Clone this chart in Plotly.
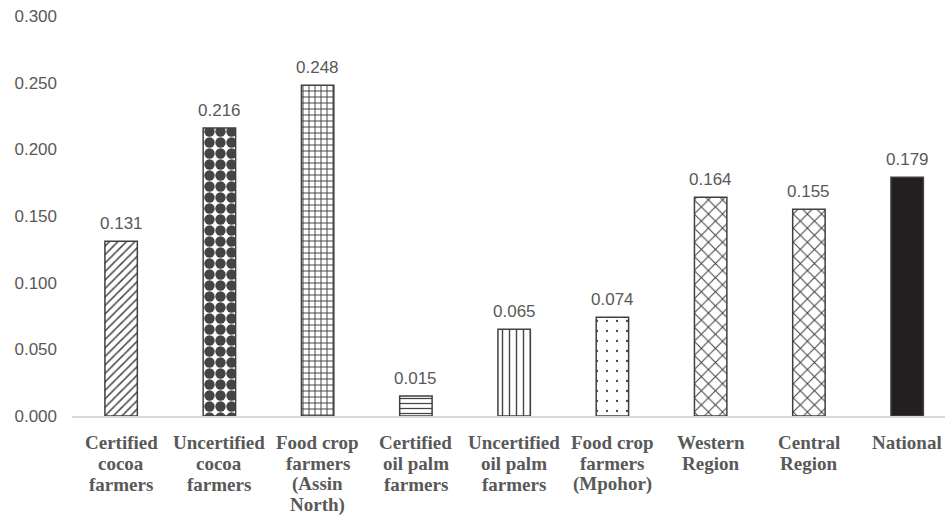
import plotly.graph_objects as go

categories = [
    "Certified cocoa farmers",
    "Uncertified cocoa farmers",
    "Food crop farmers (Assin North)",
    "Certified oil palm farmers",
    "Uncertified oil palm farmers",
    "Food crop farmers (Mpohor)",
    "Western Region",
    "Central Region",
    "National",
]
label_lines = [
    ["Certified", "cocoa", "farmers"],
    ["Uncertified", "cocoa", "farmers"],
    ["Food crop", "farmers", "(Assin", "North)"],
    ["Certified", "oil palm", "farmers"],
    ["Uncertified", "oil palm", "farmers"],
    ["Food crop", "farmers", "(Mpohor)"],
    ["Western", "Region"],
    ["Central", "Region"],
    ["National"],
]
values = [0.131, 0.216, 0.248, 0.015, 0.065, 0.074, 0.164, 0.155, 0.179]
y_ticks = [0.0, 0.05, 0.10, 0.15, 0.20, 0.25, 0.30]

shapes = ["/", ".", "+", "-", "|", ".", "x", "x", ""]
sizes = [6, 11, 6, 5, 7, 10, 10, 10, 8]
solid = [0.25, 0.7, 0.3, 0.25, 0.2, 0.04, 0.2, 0.2, 0.3]
fill_bg = ["white"] * 8 + ["#231f20"]

fig = go.Figure()
fig.add_trace(go.Bar(
    x=categories,
    y=values,
    width=0.33,
    marker=dict(
        color=fill_bg,
        line=dict(color="#404040", width=1.5),
        pattern=dict(shape=shapes, size=sizes, solidity=solid,
                     fgcolor="#000000", fgopacity=1, bgcolor=fill_bg,
                     fillmode="overlay"),
    ),
    hoverinfo="skip",
))

for c, v in zip(categories, values):
    fig.add_annotation(x=c, y=v, text=f"{v:.3f}", showarrow=False,
                       yanchor="bottom", yshift=6,
                       font=dict(family="Liberation Sans", size=17, color="#595959"))

for c, lines in zip(categories, label_lines):
    for i, line in enumerate(lines):
        fig.add_annotation(x=c, y=0, text=line, showarrow=False,
                           yanchor="middle", yshift=-(26 + 21 * i),
                           font=dict(family="Liberation Serif", size=19,
                                     color="#595959", weight="bold"))

fig.update_layout(
    width=945, height=520,
    margin=dict(l=72, r=0, t=16, b=104),
    plot_bgcolor="white", paper_bgcolor="white",
    showlegend=False,
    bargap=0.67,
    xaxis=dict(
        range=[-0.5, 8.385], automargin=False,
        showline=True, linecolor="#d9d9d9", linewidth=1.5,
        ticks="", showgrid=False, showticklabels=False,
    ),
    yaxis=dict(
        range=[0, 0.3], automargin=False,
        tickvals=y_ticks,
        ticktext=[f"{t:.3f}" for t in y_ticks],
        showgrid=False, zeroline=False, showline=False,
        ticks="", ticklabelstandoff=14,
        tickfont=dict(family="Liberation Sans", size=17, color="#595959"),
    ),
)

fig.write_html("out.html")
